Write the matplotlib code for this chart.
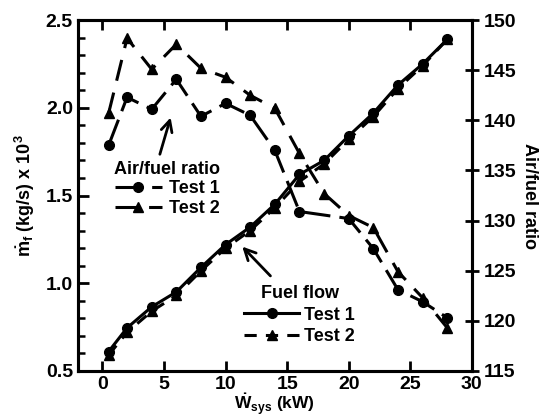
import matplotlib
matplotlib.use('Agg')
import matplotlib.pyplot as plt
from matplotlib.lines import Line2D

plt.rcParams['font.family'] = ['Liberation Sans', 'DejaVu Sans']
plt.rcParams['font.weight'] = 'bold'
plt.rcParams['axes.labelweight'] = 'bold'
plt.rcParams['mathtext.fontset'] = 'custom'
plt.rcParams['mathtext.rm'] = 'Liberation Sans:bold'
plt.rcParams['mathtext.it'] = 'Liberation Sans:bold'
plt.rcParams['mathtext.bf'] = 'Liberation Sans:bold'

# fuel flow, kg/s x 10^3
w_fuel = [0.5, 2, 4, 6, 8, 10, 12, 14, 16, 18, 20, 22, 24, 26, 28]
fuel_t1 = [0.61, 0.745, 0.865, 0.95, 1.09, 1.22, 1.32, 1.45, 1.62, 1.70, 1.84, 1.97, 2.13, 2.25, 2.39]
fuel_t2 = [0.59, 0.72, 0.84, 0.93, 1.07, 1.20, 1.30, 1.43, 1.58, 1.68, 1.82, 1.95, 2.11, 2.24, 2.39]

# air/fuel ratio
w_af1 = [0.5, 2, 4, 6, 8, 10, 12, 14, 16, 20, 22, 24, 26, 28]
af_t1 = [137.5, 142.3, 141.1, 144.1, 140.4, 141.7, 140.5, 137.0, 130.9, 130.2, 127.2, 123.1, 121.9, 120.3]
w_af2 = [0.5, 2, 4, 6, 8, 10, 12, 14, 16, 18, 20, 22, 24, 26, 28]
af_t2 = [140.7, 148.2, 145.1, 147.6, 145.2, 144.3, 142.5, 141.2, 136.7, 132.7, 130.5, 129.3, 124.9, 122.3, 119.3]

fig = plt.figure(figsize=(5.48, 4.2), dpi=100)
ax = fig.add_axes([0.142, 0.117, 0.719, 0.835])
ax2 = ax.twinx()

lw = 2.2
ax.plot(w_fuel, fuel_t1, 'k-', marker='o', ms=7, lw=lw)
ax.plot(w_fuel, fuel_t2, 'k', ls=(0, (4, 3)), marker='^', ms=7, lw=lw)
ax2.plot(w_af1, af_t1, 'k', ls=(0, (9, 3)), marker='o', ms=7, lw=lw)
ax2.plot(w_af2, af_t2, 'k', ls=(0, (7, 4)), marker='^', ms=7.5, lw=lw)

ax.set_xlim(-2, 30)
ax.set_ylim(0.5, 2.5)
ax2.set_ylim(115, 150)
ax.set_xticks([0, 5, 10, 15, 20, 25, 30])
ax.set_yticks([0.5, 1.0, 1.5, 2.0, 2.5])
ax.set_yticks([0.6 + 0.1 * i for i in range(19) if i % 5 != 4], minor=True)
ax2.set_yticks([115, 120, 125, 130, 135, 140, 145, 150])

for a in (ax, ax2):
    for s in a.spines.values():
        s.set_linewidth(2.2)
ax.tick_params(axis='x', direction='in', top=True, length=7, width=2, labelsize=14, pad=4)
ax.tick_params(axis='y', which='major', direction='in', length=8, width=2, labelsize=14)
ax.tick_params(axis='y', which='minor', direction='in', length=5, width=1.8)
ax2.tick_params(axis='y', direction='inout', length=10, width=2, labelsize=14)
for lab in ax.get_xticklabels() + ax.get_yticklabels() + ax2.get_yticklabels():
    lab.set_fontweight('bold')

ax.set_xlabel(r'$\dot{\mathrm{W}}_{\mathrm{sys}}$ (kW)', fontsize=12.5, fontweight='bold', labelpad=-1)
ax.set_ylabel(r'$\dot{\mathrm{m}}_{\mathrm{f}}$ (kg/s) x 10$^{3}$', fontsize=13,
              fontweight='bold', labelpad=6)
ax2.set_ylabel('Air/fuel ratio', fontsize=13, fontweight='bold', rotation=-90, labelpad=16)

ax.annotate('', xy=(5.6, 1.96), xytext=(4.6, 1.72),
            arrowprops=dict(arrowstyle='->', lw=2, color='k', mutation_scale=20))
ax.annotate('', xy=(11.2, 1.22), xytext=(13.8, 1.03),
            arrowprops=dict(arrowstyle='->', lw=2, color='k', mutation_scale=20))

h1 = [Line2D([], [], color='k', ls=(0, (9, 3)), marker='o', ms=7, lw=lw),
      Line2D([], [], color='k', ls=(0, (7, 4)), marker='^', ms=7.5, lw=lw)]
leg1 = ax.legend(h1, ['Test 1', 'Test 2'], title='Air/fuel ratio', frameon=False,
                 loc='upper left', bbox_to_anchor=(0.07, 0.625),
                 prop={'size': 13, 'weight': 'bold'},
                 title_fontsize=13, handlelength=2.6, handletextpad=0.4,
                 labelspacing=0.15, borderpad=0)
leg1.get_title().set_fontweight('bold')
ax.add_artist(leg1)

h2 = [Line2D([], [], color='k', ls='-', marker='o', ms=7, lw=lw),
      Line2D([], [], color='k', ls=(0, (4, 3)), marker='^', ms=7, lw=lw)]
leg2 = ax.legend(h2, ['Test 1', 'Test 2'], title='Fuel flow', frameon=False,
                 loc='upper left', bbox_to_anchor=(0.40, 0.27),
                 prop={'size': 13, 'weight': 'bold'},
                 title_fontsize=13, handlelength=3.0, handletextpad=0.3,
                 labelspacing=0.25, borderpad=0)
leg2.get_title().set_fontweight('bold')

fig.savefig('out.png', dpi=100)
